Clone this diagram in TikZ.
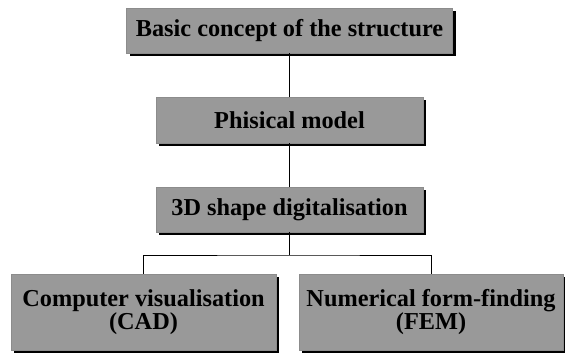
\documentclass[tikz,border=0pt]{standalone}
\usepackage{fontspec}
\setmainfont{Liberation Serif}
\usetikzlibrary{shadows}
\begin{document}
\begin{tikzpicture}[x=1pt,y=-1pt,
  stage/.style={rectangle, fill=black!40, draw=black!45, line width=0.4pt,
    inner sep=0pt, align=center,
    font=\fontsize{24.3}{23}\selectfont\bfseries,
    drop shadow={shadow xshift=3pt, shadow yshift=-3pt, fill=black, opacity=1}},
  link/.style={draw=black, line width=1pt}]
\useasboundingbox (0,0) rectangle (565,353);
% chain of stages
\node[stage, minimum width=326pt, minimum height=45pt] (b1) at (289.5,30.5) {Basic concept of the structure};
\node[stage, minimum width=267pt, minimum height=46pt] (b2) at (289.5,120) {Phisical model};
\node[stage, minimum width=267pt, minimum height=45pt] (b3) at (289.5,209.5) {3D shape digitalisation};
\node[stage, minimum width=265pt, minimum height=76pt] (b4) at (143.5,312) {Computer visualisation\\(CAD)};
\node[stage, minimum width=264pt, minimum height=76pt] (b5) at (431,312) {Numerical form-finding\\(FEM)};
% branching point below the digitalisation step
\coordinate (j) at (289.5,255);
\draw[link] (b1.south) -- (b2.north);
\draw[link] (b2.south) -- (b3.north);
\draw[link] (b3.south) -- (j);
\draw[link] (b4.north) |- (j) -| (b5.north);
\end{tikzpicture}
\end{document}
